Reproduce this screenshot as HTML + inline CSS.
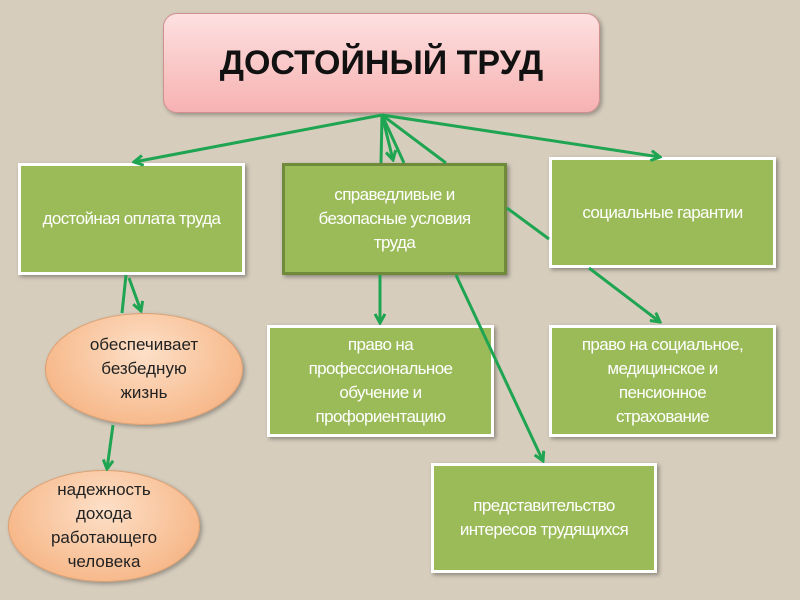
<!DOCTYPE html>
<html><head><meta charset="utf-8"><style>
body{margin:0;width:800px;height:600px;overflow:hidden;background:#d6cdbd;font-family:"Liberation Sans","DejaVu Sans",sans-serif;}
.b{position:absolute;background:#9bbb59;color:#fff;border:3px solid #fff;box-sizing:border-box;display:flex;align-items:center;justify-content:center;text-align:center;font-size:17px;line-height:24px;box-shadow:2px 2px 4px rgba(0,0,0,.35);letter-spacing:-0.6px}
.e{position:absolute;border-radius:50%;background:radial-gradient(ellipse at 50% 35%,#fde0c8,#f6b585 80%,#f0a670);border:1px solid #dda070;box-sizing:border-box;display:flex;align-items:center;justify-content:center;text-align:center;font-size:17px;line-height:24px;color:#222;box-shadow:2px 2px 4px rgba(0,0,0,.3)}
</style></head><body>
<div style="position:absolute;left:163px;top:13px;width:437px;height:100px;border-radius:14px;background:linear-gradient(#fde0e0,#f7b2b2);border:1px solid #d09090;box-sizing:border-box;display:flex;align-items:center;justify-content:center;font-weight:bold;font-size:34px;color:#111;box-shadow:2px 2px 4px rgba(0,0,0,.3)">ДОСТОЙНЫЙ ТРУД</div>
<div class="b" style="left:18px;top:163px;width:227px;height:112px">достойная оплата труда</div>
<div class="b" style="left:282px;top:163px;width:225px;height:112px;border-color:#6e8a3a">справедливые и<br>безопасные условия<br>труда</div>
<div class="b" style="left:549px;top:157px;width:227px;height:111px">социальные гарантии</div>
<div class="b" style="left:267px;top:325px;width:227px;height:112px">право на<br>профессиональное<br>обучение и<br>профориентацию</div>
<div class="b" style="left:549px;top:325px;width:227px;height:112px">право на социальное,<br>медицинское и<br>пенсионное<br>страхование</div>
<div class="b" style="left:431px;top:463px;width:226px;height:110px">представительство<br>интересов трудящихся</div>
<div class="e" style="left:45px;top:313px;width:198px;height:112px">обеспечивает<br>безбедную<br>жизнь</div>
<div class="e" style="left:8px;top:470px;width:192px;height:112px">надежность<br>дохода<br>работающего<br>человека</div>
<svg width="800" height="600" style="position:absolute;left:0;top:0">
<defs><marker id="a" markerWidth="12" markerHeight="12" refX="10" refY="6" orient="auto" markerUnits="userSpaceOnUse"><path d="M1,1 L10,6 L1,11" fill="none" stroke="#1fa552" stroke-width="3"/></marker></defs>
<g stroke="#1fa552" stroke-width="3" fill="none">
<line x1="382" y1="115" x2="134" y2="162" marker-end="url(#a)"/>
<line x1="382" y1="115" x2="381" y2="163"/>
<line x1="382" y1="115" x2="393" y2="160" marker-end="url(#a)"/>
<line x1="382" y1="115" x2="404" y2="163"/>
<line x1="382" y1="115" x2="660" y2="157" marker-end="url(#a)"/>
<line x1="382" y1="115" x2="446" y2="163"/>
<line x1="507" y1="208" x2="549" y2="239"/>
<line x1="589" y1="268" x2="660" y2="322" marker-end="url(#a)"/>
<line x1="456" y1="275" x2="543" y2="461" marker-end="url(#a)"/>
<line x1="380" y1="275" x2="380" y2="323" marker-end="url(#a)"/>
<line x1="126" y1="275" x2="122" y2="313"/>
<line x1="129" y1="278" x2="141" y2="311" marker-end="url(#a)"/>
<line x1="113" y1="425" x2="107" y2="469" marker-end="url(#a)"/>
</g></svg>
</body></html>
